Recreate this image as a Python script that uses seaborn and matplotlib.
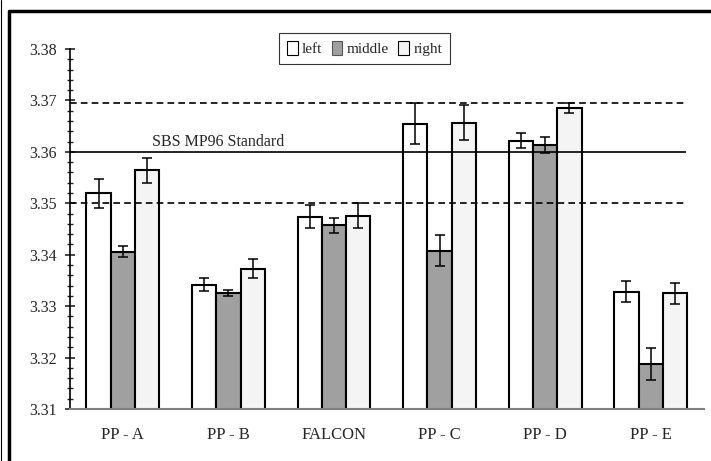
import pandas as pd
import seaborn as sns
import matplotlib.pyplot as plt
from matplotlib.lines import Line2D
from matplotlib.patches import Patch
from matplotlib.ticker import MultipleLocator

# values
sites = ["PP - A", "PP - B", "FALCON", "PP - C", "PP - D", "PP - E"]
positions = ["left", "middle", "right"]
left_vals = [3.3519, 3.3342, 3.3474, 3.3655, 3.3622, 3.3328]
middle_vals = [3.3406, 3.3325, 3.3457, 3.3408, 3.3613, 3.3187]
right_vals = [3.3564, 3.3373, 3.3476, 3.3657, 3.3685, 3.3325]
left_err = [0.0028, 0.0013, 0.0023, 0.0040, 0.0015, 0.0020]
middle_err = [0.0010, 0.0006, 0.0015, 0.0030, 0.0016, 0.0031]
right_err = [0.0024, 0.0019, 0.0024, 0.0034, 0.0010, 0.0020]
standard = 3.360
upper_limit = 3.3695
lower_limit = 3.350

rows = []
for pos, vals, errs in zip(positions, [left_vals, middle_vals, right_vals],
                           [left_err, middle_err, right_err]):
    for s, v, e in zip(sites, vals, errs):
        rows.append({"site": s, "pos": pos, "value": v, "err": e})
df = pd.DataFrame(rows)

colors = {"left": "#ffffff", "middle": "#a0a0a0", "right": "#f4f4f4"}

sns.set_style("white")
plt.rcParams['font.family'] = ['Liberation Serif', 'DejaVu Serif']

fig = plt.figure(figsize=(7.11, 4.61), dpi=100)
ax = fig.add_axes([0.0985, 0.1128, 0.891, 0.781])

sns.barplot(data=df, x="site", y="value", hue="pos", hue_order=positions,
            order=sites, palette=colors, width=0.69, errorbar=None,
            edgecolor="black", linewidth=1.5, legend=False, ax=ax)

# error bars at the centres of the drawn bars
for bars, pos in zip(ax.containers, positions):
    sub = df[df["pos"] == pos].set_index("site").loc[sites]
    xs = [b.get_x() + b.get_width() / 2 for b in bars]
    ax.errorbar(xs, sub["value"], yerr=sub["err"], fmt="none",
                ecolor="black", elinewidth=1.1, capsize=3.6, capthick=1.1, zorder=5)

ax.hlines(standard, -0.5, 5.33, color="black", lw=1.2, zorder=1)
ax.hlines([upper_limit, lower_limit], -0.5, 5.33, color="black", lw=1.2,
          linestyles=(0, (4, 2.5)), zorder=1)
ax.text(0.9, standard + 0.0004, "SBS MP96 Standard", ha="center", va="bottom",
        fontsize=11.5)

ax.set_ylim(3.31, 3.38)
ax.set_xlim(-0.5, 5.5)
ax.yaxis.set_major_locator(MultipleLocator(0.01))
ax.yaxis.set_minor_locator(MultipleLocator(0.002))
ax.yaxis.set_major_formatter(plt.FormatStrFormatter("%.2f"))
ax.tick_params(axis="y", which="major", direction="inout", length=7, width=1.2,
               labelsize=11.5, pad=6, left=True)
ax.tick_params(axis="y", which="minor", direction="inout", length=4, width=1,
               left=True)
ax.tick_params(axis="x", length=0, labelsize=12, pad=13)
ax.set_xlabel("")
ax.set_ylabel("")

for side in ["top", "right"]:
    ax.spines[side].set_visible(False)
ax.spines["left"].set_color("black")
ax.spines["left"].set_linewidth(1.2)
ax.spines["bottom"].set_color("#808080")
ax.spines["bottom"].set_linewidth(1.5)

handles = [Patch(facecolor=colors[p], edgecolor="black" if p != "middle" else "#555555",
                 linewidth=0.8) for p in positions]
leg = fig.legend(handles, positions, loc="center", bbox_to_anchor=(0.5127, 0.8948),
                 ncol=3, frameon=True, fancybox=False, fontsize=11,
                 handlelength=0.7, handleheight=1.0, handletextpad=0.3,
                 columnspacing=0.6, borderpad=0.5)
leg.get_frame().set_edgecolor("black")
leg.get_frame().set_linewidth(0.8)

# outer chart border
fig.add_artist(Line2D([8.5 / 711, 8.5 / 711, 1.0], [0.0, 1 - 11.5 / 461, 1 - 11.5 / 461],
                      transform=fig.transFigure, color="black", lw=2.5))
fig.add_artist(Line2D([1.5 / 711, 1.5 / 711], [0.0, 1.0],
                      transform=fig.transFigure, color="black", lw=0.8))

fig.savefig("out.png", dpi=100)
